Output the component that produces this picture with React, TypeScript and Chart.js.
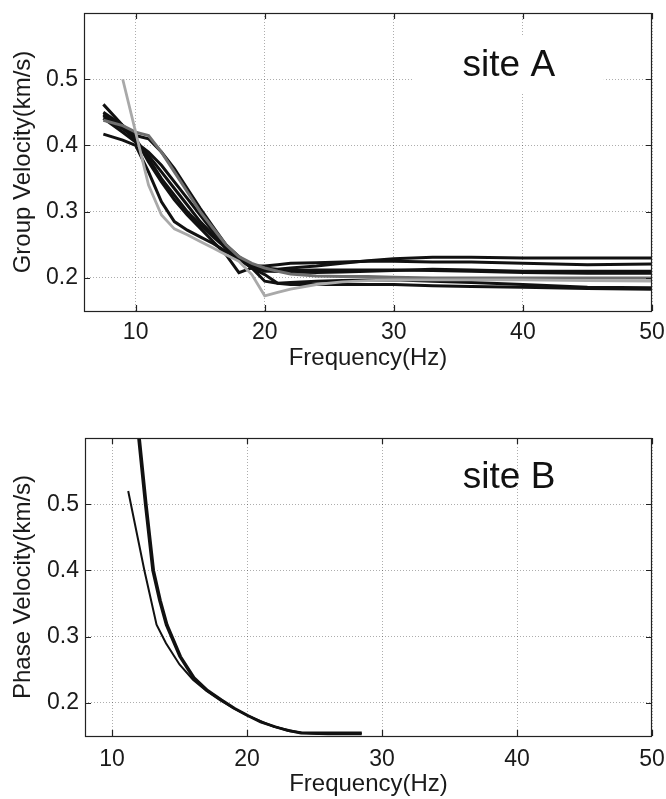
import React, { useEffect, useRef } from "react";
import { Chart, registerables } from "chart.js";

Chart.register(...registerables);

// ---------- shared axis ticks ----------
const xTickValues = [10, 20, 30, 40, 50];
const yTickValues = [0.2, 0.3, 0.4, 0.5];

// ---------- site A: group velocity ----------
const freqA = [7.5, 9, 10, 11, 12, 13, 14, 15, 16, 17, 18, 19, 20, 21, 22, 24, 26, 28, 30, 33, 36, 40, 45, 50];
const groupA1 = [0.462, 0.43, 0.405, 0.385, 0.36, 0.335, 0.31, 0.285, 0.265, 0.245, 0.228, 0.22, 0.215, 0.213, 0.215, 0.218, 0.222, 0.226, 0.229, 0.231, 0.231, 0.23, 0.23, 0.23];
const groupA2 = [0.447, 0.43, 0.415, 0.41, 0.39, 0.365, 0.335, 0.305, 0.277, 0.25, 0.228, 0.218, 0.218, 0.22, 0.222, 0.223, 0.224, 0.225, 0.225, 0.224, 0.224, 0.222, 0.22, 0.221];
const groupA3 = [0.441, 0.42, 0.405, 0.39, 0.37, 0.345, 0.32, 0.295, 0.27, 0.25, 0.232, 0.218, 0.21, 0.21, 0.211, 0.212, 0.212, 0.212, 0.212, 0.211, 0.21, 0.208, 0.207, 0.207];
const groupA4 = [0.417, 0.408, 0.4, 0.36, 0.315, 0.285, 0.272, 0.262, 0.252, 0.24, 0.228, 0.215, 0.205, 0.192, 0.19, 0.19, 0.19, 0.19, 0.19, 0.188, 0.187, 0.186, 0.184, 0.183];
const groupA5 = [0.445, 0.425, 0.41, 0.38, 0.35, 0.325, 0.3, 0.28, 0.262, 0.245, 0.23, 0.215, 0.195, 0.192, 0.193, 0.195, 0.196, 0.197, 0.197, 0.195, 0.193, 0.19, 0.186, 0.185];
const groupA6 = [0.45, 0.43, 0.41, 0.375, 0.345, 0.318, 0.295, 0.275, 0.255, 0.235, 0.208, 0.215, 0.212, 0.21, 0.209, 0.208, 0.209, 0.21, 0.211, 0.213, 0.212, 0.21, 0.21, 0.21];
const groupA7 = [null, 0.5, 0.42, 0.34, 0.295, 0.274, 0.265, 0.255, 0.245, 0.235, 0.225, 0.205, 0.173, 0.178, 0.183, 0.19, 0.194, 0.196, 0.197, 0.197, 0.197, 0.197, 0.196, 0.195];
const groupA8 = [0.438, 0.43, 0.42, 0.415, 0.39, 0.36, 0.33, 0.3, 0.275, 0.25, 0.232, 0.222, 0.215, 0.21, 0.206, 0.203, 0.202, 0.202, 0.201, 0.2, 0.2, 0.2, 0.2, 0.2];

// ---------- site B: phase velocity ----------
const freqB1 = [11.95, 12.45, 13.0, 13.5, 14.0, 15.0, 16.0, 17.0, 18.0, 19.0, 20.0, 21.0, 22.0, 23.0, 24.0, 26.0, 28.5];
const phaseB1 = [0.6, 0.5, 0.4, 0.355, 0.318, 0.27, 0.238, 0.219, 0.205, 0.192, 0.181, 0.171, 0.164, 0.158, 0.154, 0.153, 0.153];
const freqB2 = [12.05, 12.55, 13.1, 13.6, 14.1, 15.1, 16.1, 17.1, 18.1, 19.1, 20.1, 21.1, 22.1, 23.1, 24.1, 26.0, 28.5];
const phaseB2 = [0.6, 0.5, 0.4, 0.355, 0.318, 0.27, 0.238, 0.219, 0.205, 0.192, 0.181, 0.171, 0.164, 0.158, 0.155, 0.155, 0.155];
const freqB3 = [11.2, 12.0, 12.4, 13.3, 14.0, 15.0, 16.0, 17.0, 18.0, 19.0, 20.0, 22.0, 24.0, 26.0];
const phaseB3 = [0.52, 0.44, 0.4, 0.318, 0.29, 0.258, 0.235, 0.218, 0.204, 0.192, 0.181, 0.164, 0.155, 0.153];

const FONT = "'Liberation Sans', Arial, Helvetica, sans-serif";

const toPoints = (xs: number[], ys: (number | null)[]) =>
  xs.map((x, i) => ({ x, y: ys[i] }));

const framePlugin = {
  id: "frame",
  beforeDatasetsDraw(chart: any, _args: any, opts: any) {
    const { ctx, chartArea } = chart;
    const { left, right, top } = chartArea;
    const cx = left + (right - left) * opts.fx;
    const cy = top + opts.dy;
    ctx.save();
    if (opts.box) {
      ctx.fillStyle = "#ffffff";
      ctx.fillRect(cx - 95, cy - 30, 190, 58);
    }
    ctx.fillStyle = "#111";
    ctx.font = `37px ${FONT}`;
    ctx.textAlign = "center";
    ctx.textBaseline = "middle";
    ctx.fillText(opts.label, cx, cy);
    ctx.restore();
  },
  afterDatasetsDraw(chart: any) {
    const { ctx, chartArea, scales } = chart;
    const { left, right, top, bottom } = chartArea;
    const xs = scales.x;
    const ys = scales.y;
    const tl = 6;
    ctx.save();
    ctx.strokeStyle = "#222";
    ctx.lineWidth = 1.2;
    ctx.beginPath();
    xs.ticks.forEach((t: any) => {
      const px = Math.round(xs.getPixelForValue(t.value)) + 0.5;
      ctx.moveTo(px, bottom);
      ctx.lineTo(px, bottom - tl);
      ctx.moveTo(px, top);
      ctx.lineTo(px, top + tl);
    });
    ys.ticks.forEach((t: any) => {
      const py = Math.round(ys.getPixelForValue(t.value)) + 0.5;
      ctx.moveTo(left, py);
      ctx.lineTo(left + tl, py);
      ctx.moveTo(right, py);
      ctx.lineTo(right - tl, py);
    });
    ctx.stroke();
    ctx.strokeRect(Math.round(left) + 0.5, Math.round(top) + 0.5, Math.round(right - left) - 1, Math.round(bottom - top));
    ctx.restore();
  },
};

type PanelProps = {
  datasets: any[];
  xMin: number;
  yTitle: string;
  label: string;
  height: number;
  padTop: number;
  padLeft: number;
  xAxisHeight: number;
  xTickPad: number;
  xTitlePad: number;
  labelDy: number;
  box: boolean;
};

const gridOpts = {
  color: "rgba(0,0,0,0.32)",
  lineWidth: 1,
  drawTicks: false,
  tickLength: 0,
};

function Panel(p: PanelProps) {
  const ref = useRef<HTMLCanvasElement>(null);
  useEffect(() => {
    if (!ref.current) return;
    const chart = new Chart(ref.current, {
      type: "line",
      data: { datasets: p.datasets },
      plugins: [framePlugin],
      options: {
        responsive: false,
        animation: false,
        layout: { padding: { top: p.padTop, right: 14, bottom: 0, left: 0 } },
        elements: { point: { radius: 0 }, line: { tension: 0 } },
        plugins: {
          legend: { display: false },
          tooltip: { enabled: false },
          frame: { label: p.label, fx: 0.748, dy: p.labelDy, box: p.box },
        } as any,
        scales: {
          x: {
            type: "linear",
            min: p.xMin,
            max: 50,
            afterBuildTicks: (s: any) => {
              s.ticks = xTickValues.map((v) => ({ value: v }));
            },
            afterFit: (s: any) => {
              s.height = p.xAxisHeight;
              s.paddingLeft = 0;
              s.paddingRight = 0;
            },
            border: { display: false, dash: [1, 2] },
            grid: gridOpts,
            ticks: {
              padding: p.xTickPad,
              color: "#1a1a1a",
              font: { family: FONT, size: 23 },
              maxRotation: 0,
              autoSkip: false,
              callback: (v: any) => String(v),
            },
            title: {
              display: true,
              text: "Frequency(Hz)",
              color: "#1a1a1a",
              font: { family: FONT, size: 24 },
              padding: { top: 0, bottom: p.xTitlePad },
            },
          },
          y: {
            type: "linear",
            min: 0.15,
            max: 0.6,
            afterBuildTicks: (s: any) => {
              s.ticks = yTickValues.map((v) => ({ value: v }));
            },
            afterFit: (s: any) => {
              s.width = p.padLeft;
              s.paddingTop = 0;
              s.paddingBottom = 0;
            },
            border: { display: false, dash: [1, 2] },
            grid: gridOpts,
            ticks: {
              padding: 6,
              color: "#1a1a1a",
              font: { family: FONT, size: 23 },
              autoSkip: false,
              callback: (v: any) => Number(v).toFixed(1),
            },
            title: {
              display: true,
              text: p.yTitle,
              color: "#1a1a1a",
              font: { family: FONT, size: 24 },
              padding: { top: 9, bottom: 0 },
            },
          },
        },
      },
    });
    return () => chart.destroy();
  }, []);
  return <canvas ref={ref} width={666} height={p.height} style={{ display: "block" }} />;
}

const black = "#111111";

const datasetsA = [
  { data: toPoints(freqA, groupA7), borderColor: "#a9a9a9", borderWidth: 2.8 },
  { data: toPoints(freqA, groupA8), borderColor: "#6e6e6e", borderWidth: 3 },
  { data: toPoints(freqA, groupA1), borderColor: black, borderWidth: 3 },
  { data: toPoints(freqA, groupA2), borderColor: black, borderWidth: 3 },
  { data: toPoints(freqA, groupA3), borderColor: black, borderWidth: 3 },
  { data: toPoints(freqA, groupA4), borderColor: black, borderWidth: 3 },
  { data: toPoints(freqA, groupA5), borderColor: black, borderWidth: 3 },
  { data: toPoints(freqA, groupA6), borderColor: black, borderWidth: 3 },
];

const datasetsB = [
  { data: toPoints(freqB1, phaseB1), borderColor: black, borderWidth: 2.4 },
  { data: toPoints(freqB2, phaseB2), borderColor: black, borderWidth: 2.4 },
  { data: toPoints(freqB3, phaseB3), borderColor: black, borderWidth: 2 },
];

export default function App() {
  return (
    <div style={{ position: "fixed", left: 0, top: 0, width: 666, height: 799, background: "#fff" }}>
      <Panel
        datasets={datasetsA}
        xMin={6}
        yTitle="Group Velocity(km/s)"
        label="site A"
        height={400}
        padTop={13}
        padLeft={84}
        xAxisHeight={89}
        xTickPad={8}
        xTitlePad={27}
        labelDy={53}
        box={true}
      />
      <Panel
        datasets={datasetsB}
        xMin={8}
        yTitle="Phase Velocity(km/s)"
        label="site B"
        height={399}
        padTop={38}
        padLeft={85}
        xAxisHeight={63}
        xTickPad={10}
        xTitlePad={0}
        labelDy={40}
        box={false}
      />
    </div>
  );
}
